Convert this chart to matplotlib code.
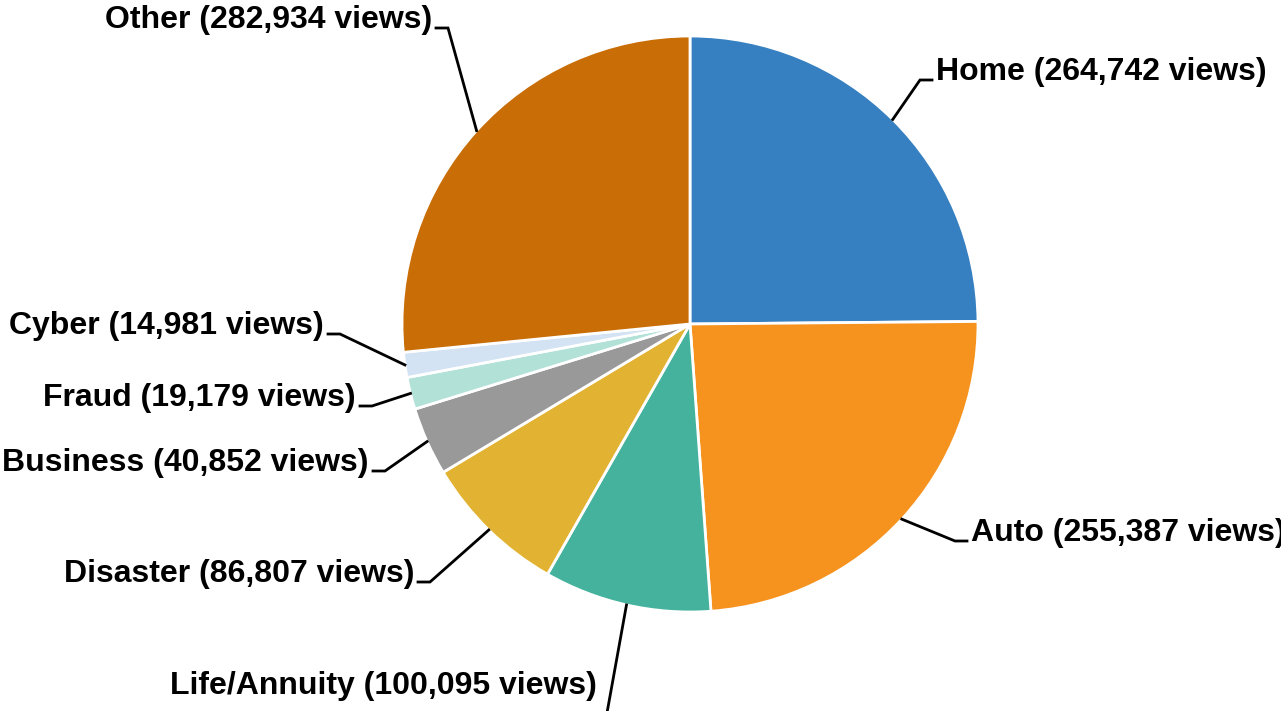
import numpy as np
import matplotlib
matplotlib.use("Agg")
from matplotlib import pyplot as plt

# data
categories = ["Home", "Auto", "Life/Annuity", "Disaster", "Business",
              "Fraud", "Cyber", "Other"]
views = [264742, 255387, 100095, 86807, 40852, 19179, 14981, 282934]
colors = ["#367FC0", "#F6931F", "#45B29D", "#E2B332", "#999999",
          "#B2E1D8", "#D3E3F3", "#C96D06"]

# layout (pixels from top-left of the 1281x711 canvas)
W, H = 1281, 711
CENTER = (690, 324)
RADIUS = 288
# elbow of each leader line (x, y from top); label baseline sits on it
elbows = [(920, 80), (955, 541), (603, 735), (430, 582),
          (385, 471), (372, 406), (340, 334), (448, 28)]
STUB = 12
GAP = 4

plt.rcParams['font.family'] = ['Liberation Sans', 'DejaVu Sans']

fig = plt.figure(figsize=(W / 100, H / 100), dpi=100)
ax = fig.add_axes([0, 0, 1, 1])

cx, cy = CENTER[0], H - CENTER[1]
wedges, _ = ax.pie(views, colors=colors, startangle=90, counterclock=False,
                   center=(cx, cy), radius=RADIUS, frame=True,
                   wedgeprops=dict(edgecolor='white', linewidth=2.0))
ax.set_xlim(0, W)
ax.set_ylim(0, H)
ax.set_aspect('equal')
ax.axis('off')

for w, name, val, (ex, ey) in zip(wedges, categories, views, elbows):
    mid = np.deg2rad((w.theta1 + w.theta2) / 2)
    sx = cx + RADIUS * np.cos(mid)
    sy = cy + RADIUS * np.sin(mid)
    ey = H - ey
    side = 1 if np.cos(mid) > 0 else -1
    hx = ex + side * STUB
    ax.plot([sx, ex, hx], [sy, ey, ey], color='black', lw=2.0,
            solid_joinstyle='miter', clip_on=True)
    label = f"{name} ({val:,} views)"
    # Life/Annuity's elbow is below the canvas, so its text sits on its own
    if name == "Life/Annuity":
        ax.text(597, H - 694, label, ha='right', va='baseline',
                fontsize=23, fontweight='bold')
        continue
    ax.text(hx + side * GAP, ey, label,
            ha='left' if side > 0 else 'right', va='baseline',
            fontsize=23, fontweight='bold')

fig.savefig("out.png", dpi=100)
